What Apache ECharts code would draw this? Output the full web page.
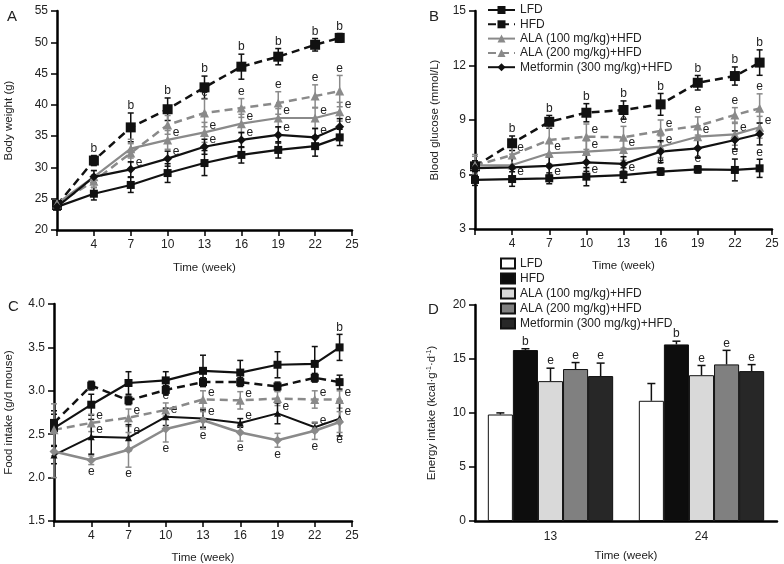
<!DOCTYPE html>
<html>
<head>
<meta charset="utf-8">
<script src="https://cdn.jsdelivr.net/npm/echarts/dist/echarts.min.js"></script>
<style>
  html, body { margin: 0; padding: 0; background: #fff; }
  #main { width: 784px; height: 564px; }
</style>
</head>
<body>
<div id="main"></div>
<script>
// ---- data ----
const weeks = [1, 4, 7, 10, 13, 16, 19, 22, 24];
const groupNames = ['LFD', 'HFD', 'ALA (100 mg/kg)+HFD', 'ALA (200 mg/kg)+HFD', 'Metformin (300 mg/kg)+HFD'];

// A: body weight (g)
const bwLFD = [23.7, 25.8, 27.2, 29.1, 30.7, 32.0, 32.8, 33.4, 34.8];
const bwHFD = [24.0, 31.1, 36.4, 39.3, 42.8, 46.1, 47.7, 49.6, 50.7];
const bwALA100 = [24.2, 28.5, 33.0, 34.4, 35.6, 37.0, 37.9, 37.9, 38.9];
const bwALA200 = [24.2, 27.8, 32.3, 36.8, 38.7, 39.5, 40.3, 41.4, 42.2];
const bwMet = [23.7, 28.5, 29.7, 31.4, 33.3, 34.4, 35.2, 34.8, 36.5];
const bwLFDsd = [0.3, 1.0, 1.2, 1.5, 2.0, 1.3, 1.3, 1.6, 1.3];
const bwHFDsd = [0.3, 0.8, 2.3, 1.8, 1.8, 2.0, 1.3, 1.0, 0.7];
const bwALA100sd = [0.3, 1.0, 1.5, 1.5, 1.6, 1.5, 1.5, 1.6, 1.5];
const bwALA200sd = [0.3, 1.0, 1.5, 1.5, 2.2, 1.5, 1.8, 1.8, 2.5];
const bwMetsd = [0.3, 1.0, 1.2, 1.2, 1.2, 1.2, 1.3, 1.4, 1.3];
const bwHFDsig = ['', 'b', 'b', 'b', 'b', 'b', 'b', 'b', 'b'];
const bwALA100sig = ['', '', '', 'e', 'e', 'e', 'e', 'e', 'e'];
const bwALA200sig = ['', '', '', '', 'e', 'e', 'e', 'e', 'e'];
const bwMetsig = ['', '', 'e', 'e', 'e', 'e', 'e', 'e', 'e'];

// B: blood glucose (mmol/L)
const bgLFD = [5.7, 5.75, 5.79, 5.88, 5.97, 6.16, 6.28, 6.25, 6.34];
const bgHFD = [6.45, 7.72, 8.9, 9.4, 9.55, 9.86, 11.05, 11.42, 12.16];
const bgALA100 = [6.5, 6.52, 7.17, 7.26, 7.38, 7.53, 8.08, 8.21, 8.6];
const bgALA200 = [6.5, 7.07, 7.9, 8.08, 8.05, 8.4, 8.67, 9.28, 9.64];
const bgMet = [6.35, 6.39, 6.47, 6.67, 6.58, 7.26, 7.44, 7.9, 8.23];
const bgLFDsd = [0.3, 0.4, 0.3, 0.5, 0.4, 0.2, 0.2, 0.6, 0.5];
const bgHFDsd = [0.3, 0.4, 0.35, 0.5, 0.5, 0.6, 0.4, 0.5, 0.7];
const bgALA100sd = [0.5, 0.6, 0.6, 0.6, 0.6, 0.6, 0.6, 0.6, 0.6];
const bgALA200sd = [0.6, 0.6, 0.9, 0.7, 0.6, 0.6, 0.5, 0.4, 0.8];
const bgMetsd = [0.4, 0.5, 0.5, 0.5, 0.4, 0.6, 0.5, 0.5, 0.6];
const bgLFDsig = ['', 'e', 'e', 'e', 'e', 'e', 'e', 'e', 'e'];
const bgHFDsig = ['', 'b', 'b', 'b', 'b', 'b', 'b', 'b', 'b'];
const bgALA100sig = ['', '', 'e', 'e', 'e', 'e', 'e', 'e', 'e'];
const bgALA200sig = ['', 'e', '', 'e', 'e', 'e', 'e', 'e', 'e'];

// C: food intake (g/d mouse)
const fiLFD = [2.57, 2.84, 3.09, 3.12, 3.23, 3.21, 3.30, 3.31, 3.50];
const fiHFD = [2.63, 3.06, 2.89, 3.01, 3.10, 3.10, 3.05, 3.15, 3.10];
const fiALA200 = [2.55, 2.63, 2.69, 2.78, 2.90, 2.89, 2.91, 2.90, 2.90];
const fiALA100 = [2.26, 2.47, 2.46, 2.70, 2.68, 2.63, 2.74, 2.58, 2.68];
const fiMet = [2.30, 2.20, 2.32, 2.56, 2.66, 2.52, 2.43, 2.54, 2.64];
const fiLFDsd = [0.2, 0.12, 0.13, 0.1, 0.18, 0.14, 0.15, 0.2, 0.15];
const fiHFDsd = [0.1, 0.05, 0.05, 0.05, 0.05, 0.05, 0.05, 0.05, 0.08];
const fiALA200sd = [0.3, 0.1, 0.1, 0.08, 0.1, 0.1, 0.08, 0.1, 0.1];
const fiALA100sd = [0.1, 0.2, 0.15, 0.1, 0.1, 0.05, 0.12, 0.05, 0.2];
const fiMetsd = [0.3, 0.05, 0.2, 0.15, 0.1, 0.1, 0.08, 0.1, 0.12];
const fiLFDsig = ['', '', '', '', '', '', '', '', 'b'];
const fiALA200sig = ['', 'e', 'e', 'e', 'e', 'e', '', 'e', 'e'];
const fiALA100sig = ['', 'e', 'e', 'e', 'e', 'e', 'e', 'e', 'e'];
const fiMetsig = ['', 'e', 'e', 'e', 'e', 'e', 'e', 'e', 'e'];

// D: energy intake (kcal·g-1·d-1)
const eiWeeks = ['13', '24'];
const eiLFD = [9.86, 11.13];
const eiHFD = [15.83, 16.35];
const eiALA100 = [12.95, 13.5];
const eiALA200 = [14.07, 14.5];
const eiMet = [13.42, 13.88];
const eiLFDsd = [0.15, 1.6];
const eiHFDsd = [0.12, 0.3];
const eiALA100sd = [1.2, 0.9];
const eiALA200sd = [0.6, 1.3];
const eiMetsd = [1.2, 0.6];
const eiHFDsig = ['b', 'b'];
const eiALAsig = ['e', 'e'];

// ---- styles ----
const FONT = '"Liberation Sans", Arial, sans-serif';
const BLACK = '#111';
const GREY = '#8a8a8a';
const none = ['', '', '', '', '', '', '', '', ''];

const chart = echarts.init(document.getElementById('main'));

function lineSeries(name, g, values, color, dash, symbol, size, width) {
  return {
    name: name, type: 'line', xAxisIndex: g, yAxisIndex: g, z: 3,
    data: weeks.map((w, i) => [w, values[i]]),
    symbol: symbol, symbolSize: size,
    lineStyle: { color: color, width: width || 2.2, type: dash === 'dashed' ? [8, 5] : 'solid' },
    itemStyle: { color: color },
    emphasis: { disabled: true }
  };
}

// error bars + significance letters (place: t = above bar, r = right of point, b = below bar)
function errSeries(g, values, sds, letters, place, color) {
  return {
    type: 'custom', xAxisIndex: g, yAxisIndex: g, z: 2, silent: true,
    data: weeks.map((w, i) => [w, values[i], sds[i]]),
    renderItem: function (params, api) {
      const i = params.dataIndex;
      const x = api.value(0), m = api.value(1), s = api.value(2);
      const p = api.coord([x, m]);
      const hi = api.coord([x, m + s]);
      const lo = api.coord([x, m - s]);
      const ls = { stroke: color, lineWidth: 1.5 };
      const kids = [
        { type: 'line', shape: { x1: p[0], y1: hi[1], x2: p[0], y2: lo[1] }, style: ls },
        { type: 'line', shape: { x1: p[0] - 3, y1: hi[1], x2: p[0] + 3, y2: hi[1] }, style: ls },
        { type: 'line', shape: { x1: p[0] - 3, y1: lo[1], x2: p[0] + 3, y2: lo[1] }, style: ls }
      ];
      const L = letters[i];
      if (L) {
        const pl = place[i];
        let tx = p[0], ty = hi[1] - 1, align = 'center', va = 'bottom';
        if (pl === 'b') { ty = lo[1] + 1; va = 'top'; }
        if (pl === 'r') { tx = p[0] + 5; ty = p[1] - 1; align = 'left'; }
        kids.push({ type: 'text', style: { text: L, x: tx, y: ty, align: align, verticalAlign: va, fill: '#222', font: '12px ' + FONT } });
      }
      return { type: 'group', children: kids };
    }
  };
}

function xTime(g, nameGap) {
  return {
    type: 'value', gridIndex: g, min: 1, max: 25, interval: 3,
    name: 'Time (week)', nameLocation: 'middle', nameGap: nameGap,
    nameTextStyle: { fontSize: 11.5, color: '#222', fontFamily: FONT },
    axisLine: { show: true, onZero: false, lineStyle: { color: '#000', width: 2.5 } },
    axisTick: { show: true, length: 6, lineStyle: { color: '#000', width: 1.5 } },
    axisLabel: { fontSize: 12, color: '#222', fontFamily: FONT, margin: 9, formatter: v => (v === 1 ? '' : String(v)) },
    splitLine: { show: false }
  };
}

function yVal(g, min, max, interval, name, nameGap, dec) {
  return {
    type: 'value', gridIndex: g, min: min, max: max, interval: interval,
    name: name, nameLocation: 'middle', nameGap: nameGap,
    nameTextStyle: { fontSize: 11.5, color: '#222', fontFamily: FONT, rich: { sup: { fontSize: 7, verticalAlign: 'top', color: '#222', fontFamily: FONT } } },
    axisLine: { show: true, onZero: false, lineStyle: { color: '#000', width: 2.5 } },
    axisTick: { show: true, length: 6, lineStyle: { color: '#000', width: 1.5 } },
    axisLabel: { fontSize: 12, color: '#222', fontFamily: FONT, margin: 9, formatter: v => v.toFixed(dec) },
    splitLine: { show: false }
  };
}

const series = [];
// B first, so the line legend takes its icons from these
series.push(
  lineSeries(groupNames[0], 1, bgLFD, BLACK, 'solid', 'rect', 8),
  lineSeries(groupNames[1], 1, bgHFD, BLACK, 'dashed', 'rect', 10, 2.5),
  lineSeries(groupNames[2], 1, bgALA100, GREY, 'solid', 'triangle', 9),
  lineSeries(groupNames[3], 1, bgALA200, GREY, 'dashed', 'triangle', 9, 2.5),
  lineSeries(groupNames[4], 1, bgMet, BLACK, 'solid', 'diamond', 9),
  errSeries(1, bgLFD, bgLFDsd, bgLFDsig, 'rrrrrtttt', BLACK),
  errSeries(1, bgHFD, bgHFDsd, bgHFDsig, 'ttttttttt', BLACK),
  errSeries(1, bgALA100, bgALA100sd, bgALA100sig, 'rrrrrrrrr', GREY),
  errSeries(1, bgALA200, bgALA200sd, bgALA200sig, 'rrrrtrttt', GREY),
  errSeries(1, bgMet, bgMetsd, none, 'rrrrrrrrr', BLACK)
);
// A
series.push(
  lineSeries('A-LFD', 0, bwLFD, BLACK, 'solid', 'rect', 8),
  lineSeries('A-HFD', 0, bwHFD, BLACK, 'dashed', 'rect', 10, 2.5),
  lineSeries('A-ALA100', 0, bwALA100, GREY, 'solid', 'triangle', 9),
  lineSeries('A-ALA200', 0, bwALA200, GREY, 'dashed', 'triangle', 9, 2.5),
  lineSeries('A-Met', 0, bwMet, BLACK, 'solid', 'diamond', 9),
  errSeries(0, bwLFD, bwLFDsd, none, 'rrrrrrrrr', BLACK),
  errSeries(0, bwHFD, bwHFDsd, bwHFDsig, 'ttttttttt', BLACK),
  errSeries(0, bwALA100, bwALA100sd, bwALA100sig, 'rrrrrrrrr', GREY),
  errSeries(0, bwALA200, bwALA200sd, bwALA200sig, 'ttttttttt', GREY),
  errSeries(0, bwMet, bwMetsd, bwMetsig, 'rrrrrrrrr', BLACK)
);
// C
series.push(
  lineSeries('C-LFD', 2, fiLFD, BLACK, 'solid', 'rect', 8),
  lineSeries('C-HFD', 2, fiHFD, BLACK, 'dashed', 'rect', 8, 2.5),
  lineSeries('C-ALA200', 2, fiALA200, GREY, 'dashed', 'triangle', 9, 2.5),
  lineSeries('C-ALA100', 2, fiALA100, BLACK, 'solid', 'triangle', 7, 2),
  lineSeries('C-Met', 2, fiMet, GREY, 'solid', 'diamond', 9, 2.5),
  errSeries(2, fiLFD, fiLFDsd, fiLFDsig, 'ttttttttt', BLACK),
  errSeries(2, fiHFD, fiHFDsd, none, 'rrrrrrrrr', BLACK),
  errSeries(2, fiALA200, fiALA200sd, fiALA200sig, 'rrrtrrrrr', GREY),
  errSeries(2, fiALA100, fiALA100sd, fiALA100sig, 'rrrrrrrrr', BLACK),
  errSeries(2, fiMet, fiMetsd, fiMetsig, 'bbbbbbbbb', GREY)
);

// D bars
const barFills = ['#ffffff', '#0d0d0d', '#d9d9d9', '#808080', '#272727'];
const barVals = [eiLFD, eiHFD, eiALA100, eiALA200, eiMet];
const barSds = [eiLFDsd, eiHFDsd, eiALA100sd, eiALA200sd, eiMetsd];
const barSig = [['', ''], eiHFDsig, eiALAsig, eiALAsig, eiALAsig];
const CAT_GAP = 0.17;
barVals.forEach((vals, gi) => {
  series.push({
    name: 'D:' + groupNames[gi], type: 'bar', xAxisIndex: 3, yAxisIndex: 3,
    data: vals, barGap: '0%', barCategoryGap: (CAT_GAP * 100) + '%',
    itemStyle: { color: barFills[gi], borderColor: '#111', borderWidth: 1 },
    emphasis: { disabled: true }
  });
});
barVals.forEach((vals, gi) => {
  series.push({
    type: 'custom', xAxisIndex: 3, yAxisIndex: 3, z: 4, silent: true,
    data: vals.map((v, i) => [i, v, barSds[gi][i]]),
    renderItem: function (params, api) {
      const i = params.dataIndex;
      const v = api.value(1), s = api.value(2);
      const p = api.coord([api.value(0), v]);
      const hi = api.coord([api.value(0), v + s]);
      const band = api.size([1, 0])[0];
      const bw = band * (1 - CAT_GAP) / 5;
      const cx = p[0] + (gi - 2) * bw;
      const ls = { stroke: '#111', lineWidth: 1.5 };
      const kids = [
        { type: 'line', shape: { x1: cx, y1: p[1], x2: cx, y2: hi[1] }, style: ls },
        { type: 'line', shape: { x1: cx - 4, y1: hi[1], x2: cx + 4, y2: hi[1] }, style: ls }
      ];
      const L = barSig[gi][i];
      if (L) {
        kids.push({ type: 'text', style: { text: L, x: cx, y: hi[1] - 1, align: 'center', verticalAlign: 'bottom', fill: '#222', font: '12px ' + FONT } });
      }
      return { type: 'group', children: kids };
    }
  });
});

const panelTitle = (t, left, top) => ({ text: t, left: left, top: top, textStyle: { fontSize: 15, fontWeight: 'normal', color: '#222', fontFamily: FONT } });

chart.setOption({
  animation: false,
  backgroundColor: '#fff',
  title: [panelTitle('A', 2, 4), panelTitle('B', 424, 4), panelTitle('C', 3, 294), panelTitle('D', 423, 297)],
  grid: [
    { left: 57, top: 11, width: 295, height: 219, outerBoundsMode: 'none' },
    { left: 475, top: 11, width: 297, height: 218, outerBoundsMode: 'none' },
    { left: 54, top: 304, width: 298, height: 217, outerBoundsMode: 'none' },
    { left: 475, top: 305, width: 302, height: 216, outerBoundsMode: 'none' }
  ],
  legend: [
    {
      data: groupNames, orient: 'vertical', left: 487, top: 4, padding: 0,
      itemWidth: 27, itemHeight: 10, itemGap: 2.3, selectedMode: false,
      textStyle: { fontSize: 12, lineHeight: 12, color: '#222', fontFamily: FONT }
    },
    {
      data: groupNames.map(n => 'D:' + n), orient: 'vertical', left: 500, top: 257.5, padding: 0,
      itemWidth: 14, itemHeight: 10, itemGap: 3, icon: 'rect', selectedMode: false,
      formatter: n => n.slice(2),
      textStyle: { fontSize: 12, lineHeight: 12, color: '#222', fontFamily: FONT }
    }
  ],
  xAxis: [
    xTime(0, 32),
    xTime(1, 31),
    xTime(2, 31),
    {
      type: 'category', gridIndex: 3, data: eiWeeks,
      name: 'Time (week)', nameLocation: 'middle', nameGap: 29,
      nameTextStyle: { fontSize: 11.5, color: '#222', fontFamily: FONT },
      axisLine: { show: true, lineStyle: { color: '#000', width: 2.5 } },
      axisTick: { show: false },
      axisLabel: { fontSize: 12, color: '#222', fontFamily: FONT, margin: 10 }
    }
  ],
  yAxis: [
    yVal(0, 20, 55, 5, 'Body weight (g)', 42, 0),
    yVal(1, 3, 15, 3, 'Blood glucose (mmol/L)', 34, 0),
    yVal(2, 1.5, 4, 0.5, 'Food intake (g/d mouse)', 39, 1),
    yVal(3, 0, 20, 5, 'Energy intake (kcal·g{sup|-1}·d{sup|-1})', 37, 0)
  ],
  series: series
});
</script>
</body>
</html>
